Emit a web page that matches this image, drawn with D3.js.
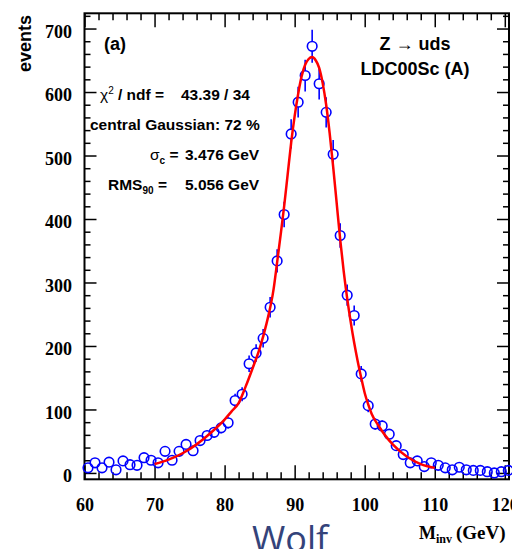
<!DOCTYPE html>
<html>
<head>
<meta charset="utf-8">
<script src="https://cdn.jsdelivr.net/npm/d3@7"></script>
<style>
  body { margin: 0; background: #fff; }
  svg { display: block; }
  .tick line { stroke: #000; stroke-width: 1.5; }
  .tick text { font-family: "Liberation Serif", serif; font-weight: bold; font-size: 18px; fill: #000; }
  .note { font-family: "Liberation Sans", Arial, sans-serif; font-weight: bold; fill: #000; }
</style>
</head>
<body>
<div id="root"></div>
<script>
// bin centres (GeV) and entries
const binCenters = [60.5, 61.5, 62.5, 63.5, 64.5, 65.5, 66.5, 67.5, 68.5, 69.5,
  70.5, 71.5, 72.5, 73.5, 74.5, 75.5, 76.5, 77.5, 78.5, 79.5,
  80.5, 81.5, 82.5, 83.5, 84.5, 85.5, 86.5, 87.5, 88.5, 89.5,
  90.5, 91.5, 92.5, 93.5, 94.5, 95.5, 96.5, 97.5, 98.5, 99.5,
  100.5, 101.5, 102.5, 103.5, 104.5, 105.5, 106.5, 107.5, 108.5, 109.5,
  110.5, 111.5, 112.5, 113.5, 114.5, 115.5, 116.5, 117.5, 118.5, 119.5, 120.5];
const events = [8, 16, 8, 17, 5, 19, 13, 12, 24, 20,
  16, 34, 20, 34, 45, 35, 51, 59, 64, 71,
  79, 114, 124, 172, 189, 212, 261, 334, 407, 534,
  584, 626, 672, 613, 568, 502, 374, 280, 248, 156,
  106, 77, 74, 61, 43, 29, 16, 19, 10, 16,
  12, 8, 5, 9, 5, 4, 4, 2, 0, 2, 4];

// fitted curve
const fitX = [70, 72, 74, 76, 78, 80, 81, 82, 83, 84, 85, 86, 87, 87.5, 88, 88.5, 89, 89.5, 90, 90.5,
  91, 91.5, 92, 92.5, 93, 93.5, 94, 94.5, 95, 95.5, 96, 96.5, 97, 97.5, 98, 98.5, 99, 99.5,
  100, 100.5, 101, 102, 103, 104, 106, 108, 110];
const fitY = [14, 21, 31, 45, 63, 84, 97, 110, 136, 165, 196, 236, 290, 332, 375, 420, 470, 520, 562, 597,
  625, 643, 652, 655, 650, 638, 614, 580, 535, 482, 425, 368, 318, 275, 238, 205, 176, 150,
  126, 108, 93, 74, 58, 45, 26, 14, 8];

const xMajor = [60, 70, 80, 90, 100, 110, 120];
const yMajor = [0, 100, 200, 300, 400, 500, 600, 700];

const width = 512;
const height = 549;

const svg = d3.select('#root')
  .append('svg')
    .attr('width', width)
    .attr('height', height);

const x = d3.scaleLinear().domain([60, 120.6]).range([84.5, 509]);
const y = d3.scaleLinear().domain([-10, 724]).range([479.3, 13.3]);

const xMinor = d3.range(60, 121, 2).filter(v => v % 10 !== 0);
const yMinor = d3.range(0, 721, 20).filter(v => v % 100 !== 0);

const [x0, x1] = x.range();
const [yb, yt] = y.range();

// bottom axis
svg.append('g')
  .attr('transform', `translate(0, ${yb})`)
  .call(d3.axisBottom(x).tickValues(xMajor).tickSize(-14).tickSizeOuter(0).tickPadding(19).tickFormat(d3.format('d')));
svg.append('g')
  .attr('transform', `translate(0, ${yb})`)
  .call(d3.axisBottom(x).tickValues(xMinor).tickSize(-7).tickSizeOuter(0).tickFormat(''));
// top axis
svg.append('g')
  .attr('transform', `translate(0, ${yt})`)
  .call(d3.axisTop(x).tickValues(xMajor).tickSize(-14).tickSizeOuter(0).tickFormat(''));
svg.append('g')
  .attr('transform', `translate(0, ${yt})`)
  .call(d3.axisTop(x).tickValues(xMinor).tickSize(-7).tickSizeOuter(0).tickFormat(''));
// left axis
svg.append('g')
  .attr('transform', `translate(${x0}, 0)`)
  .call(d3.axisLeft(y).tickValues(yMajor).tickSize(-12).tickSizeOuter(0).tickPadding(12.5).tickFormat(d3.format('d')))
  .selectAll('text').attr('dy', '0.48em');
svg.append('g')
  .attr('transform', `translate(${x0}, 0)`)
  .call(d3.axisLeft(y).tickValues(yMinor).tickSize(-6).tickSizeOuter(0).tickFormat(''));
// right axis
svg.append('g')
  .attr('transform', `translate(${x1}, 0)`)
  .call(d3.axisRight(y).tickValues(yMajor).tickSize(-12).tickSizeOuter(0).tickFormat(''));
svg.append('g')
  .attr('transform', `translate(${x1}, 0)`)
  .call(d3.axisRight(y).tickValues(yMinor).tickSize(-6).tickSizeOuter(0).tickFormat(''));

svg.selectAll('.domain').remove();

// frame
svg.append('rect')
  .attr('x', x0).attr('y', yt)
  .attr('width', x1 - x0).attr('height', yb - yt)
  .attr('fill', 'none').attr('stroke', '#000').attr('stroke-width', 2);

// data points with error bars
const r = 4.8;
const pts = svg.append('g').attr('stroke', '#0000ff').attr('stroke-width', 1.6).attr('fill', 'none');
events.forEach((v, i) => {
  const cx = x(binCenters[i]);
  const cy = y(v);
  const err = Math.sqrt(v);
  const top = y(v + err), bot = y(v - err);
  if (top < cy - r) pts.append('line').attr('x1', cx).attr('x2', cx).attr('y1', top).attr('y2', cy - r);
  if (bot > cy + r) pts.append('line').attr('x1', cx).attr('x2', cx).attr('y1', cy + r).attr('y2', bot);
  pts.append('circle').attr('cx', cx).attr('cy', cy).attr('r', r);
});

// fit curve
const line = d3.line()
  .x(d => x(d[0]))
  .y(d => y(d[1]))
  .curve(d3.curveMonotoneX);
svg.append('path')
  .datum(fitX.map((d, i) => [d, fitY[i]]))
  .attr('d', line)
  .attr('fill', 'none')
  .attr('stroke', '#ff0000')
  .attr('stroke-width', 2.5);

// axis titles
svg.append('text')
  .attr('class', 'note')
  .attr('transform', 'translate(31, 15) rotate(-90)')
  .attr('text-anchor', 'end')
  .style('font-size', '18px')
  .text('events');

const xt = svg.append('text')
  .attr('x', 419).attr('y', 539)
  .style('font-family', '"Liberation Serif", serif')
  .style('font-weight', 'bold')
  .style('font-size', '18px');
xt.append('tspan').text('M');
xt.append('tspan').attr('dy', 4).style('font-size', '12px').text('inv');
xt.append('tspan').attr('dy', -4).attr('x', 456).style('font-size', '19px').text('(GeV)');

// annotations
svg.append('text').attr('class', 'note').attr('x', 104).attr('y', 50).style('font-size', '18px').text('(a)');

const chi = svg.append('text').attr('class', 'note').attr('x', 100).attr('y', 100).style('font-size', '15.5px');
chi.append('tspan').style('font-weight', 'normal').text('χ');
chi.append('tspan').attr('dy', -6).style('font-size', '10px').style('font-weight', 'normal').text('2');
chi.append('tspan').attr('dy', 6).text(' / ndf  =');
chi.append('tspan').attr('x', 181).text('43.39 / 34');

svg.append('text').attr('class', 'note').attr('x', 90).attr('y', 130).style('font-size', '15.5px')
  .text('central Gaussian: 72 %');

const sig = svg.append('text').attr('class', 'note').attr('x', 150).attr('y', 160).style('font-size', '15.5px');
sig.append('tspan').style('font-weight', 'normal').text('σ');
sig.append('tspan').attr('dy', 4).style('font-size', '10px').text('c');
sig.append('tspan').attr('dy', -4).text(' =');
sig.append('tspan').attr('x', 185).text('3.476 GeV');

const rms = svg.append('text').attr('class', 'note').attr('x', 108).attr('y', 190).style('font-size', '15.5px');
rms.append('tspan').text('RMS');
rms.append('tspan').attr('dy', 4).style('font-size', '10px').text('90');
rms.append('tspan').attr('dy', -4).text(' =');
rms.append('tspan').attr('x', 185).text('5.056 GeV');

svg.append('text').attr('class', 'note').attr('x', 415).attr('y', 50).attr('text-anchor', 'middle')
  .style('font-size', '18px').text('Z → uds');
svg.append('text').attr('class', 'note').attr('x', 415).attr('y', 75).attr('text-anchor', 'middle')
  .style('font-size', '18px').text('LDC00Sc (A)');

// label under the plot
svg.append('text')
  .attr('x', 252).attr('y', 552)
  .style('font-family', '"Open Sans", sans-serif')
  .style('font-size', '36px')
  .style('fill', '#34437a')
  .text('Wolf');
</script>
</body>
</html>
